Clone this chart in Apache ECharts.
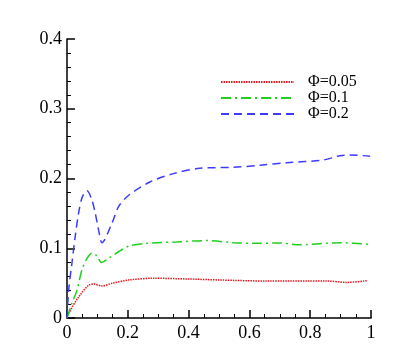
<!DOCTYPE html>
<html>
<head>
<meta charset="utf-8">
<script src="https://cdn.jsdelivr.net/npm/echarts@6/dist/echarts.min.js"></script>
<style>
  html, body { margin: 0; padding: 0; background: #fff; }
  #chart { width: 407px; height: 362px; }
</style>
</head>
<body>
<div id="chart"></div>
<script>
// 读图得到的数据 [x, y]
var phi005 = [[0, 0], [0.0055, 0.0067], [0.038, 0.03], [0.071, 0.047], [0.088, 0.0487], [0.115, 0.046],
  [0.148, 0.0497], [0.203, 0.0545], [0.284, 0.057], [0.394, 0.056], [0.503, 0.0545],
  [0.657, 0.053], [0.854, 0.053], [0.92, 0.051], [0.986, 0.0535]];
var phi01 = [[0, 0], [0.016, 0.021], [0.033, 0.04], [0.049, 0.069], [0.066, 0.0855], [0.082, 0.093], [0.099, 0.089],
  [0.113, 0.0795], [0.137, 0.0855], [0.17, 0.095], [0.203, 0.103], [0.262, 0.107], [0.36, 0.109], [0.46, 0.111],
  [0.546, 0.108], [0.613, 0.107], [0.70, 0.1075], [0.766, 0.105], [0.898, 0.108], [0.997, 0.1056]];
var phi02 = [[0, 0], [0.0055, 0.04], [0.016, 0.078], [0.027, 0.117], [0.038, 0.15], [0.049, 0.172], [0.06, 0.181],
  [0.066, 0.1826], [0.082, 0.169], [0.093, 0.15], [0.104, 0.126], [0.115, 0.108], [0.148, 0.136], [0.17, 0.16],
  [0.203, 0.176], [0.273, 0.195], [0.35, 0.207], [0.437, 0.2146], [0.547, 0.216], [0.635, 0.219],
  [0.723, 0.2227], [0.843, 0.2265], [0.898, 0.2327], [0.93, 0.2337], [0.997, 0.232]];
var names = ['Φ=0.05', 'Φ=0.1', 'Φ=0.2'];

var font = 'Liberation Serif';
var chart = echarts.init(document.getElementById('chart'));
var axisCommon = {
  type: 'value',
  axisLine: { show: true, lineStyle: { color: '#000', width: 1.5 } },
  axisTick: { show: true, inside: true, length: 8, lineStyle: { color: '#000', width: 1.5 } },
  minorTick: { show: true, length: 4, lineStyle: { color: '#000', width: 1 } },
  splitLine: { show: false },
  axisLabel: { color: '#000', fontFamily: font, fontSize: 18 }
};
var option = {
  animation: false,
  grid: { left: 67, right: 36, top: 39, bottom: 44 },
  legend: {
    orient: 'vertical',
    left: 220, top: 74, padding: 0,
    itemWidth: 73, itemHeight: 10, itemGap: 0,
    itemStyle: { opacity: 0 },
    textStyle: { color: '#000', fontFamily: font, fontSize: 16, lineHeight: 14, padding: [0, 0, 0, 9] },
    data: names
  },
  xAxis: Object.assign({}, axisCommon, {
    min: 0, max: 1, interval: 0.2,
    minorTick: Object.assign({}, axisCommon.minorTick, { splitNumber: 4 }),
    axisLabel: Object.assign({}, axisCommon.axisLabel, { margin: 6 })
  }),
  yAxis: Object.assign({}, axisCommon, {
    min: 0, max: 0.4, interval: 0.1,
    minorTick: Object.assign({}, axisCommon.minorTick, { splitNumber: 5 }),
    axisLabel: Object.assign({}, axisCommon.axisLabel, { margin: 5 })
  }),
  series: [
    { name: names[0], type: 'line', data: phi005, smooth: 0.3, symbol: 'none',
      lineStyle: { color: '#e8141a', width: 1.5, type: [1.5, 1] }, itemStyle: { color: '#e8141a' } },
    { name: names[1], type: 'line', data: phi01, smooth: 0.3, symbol: 'none',
      lineStyle: { color: '#1ed01e', width: 1.5, type: [10, 4, 2, 4] }, itemStyle: { color: '#1ed01e' } },
    { name: names[2], type: 'line', data: phi02, smooth: 0.3, symbol: 'none',
      lineStyle: { color: '#3c3cff', width: 1.5, type: [8, 5] }, itemStyle: { color: '#3c3cff' } }
  ]
};
chart.setOption(option);
</script>
</body>
</html>
